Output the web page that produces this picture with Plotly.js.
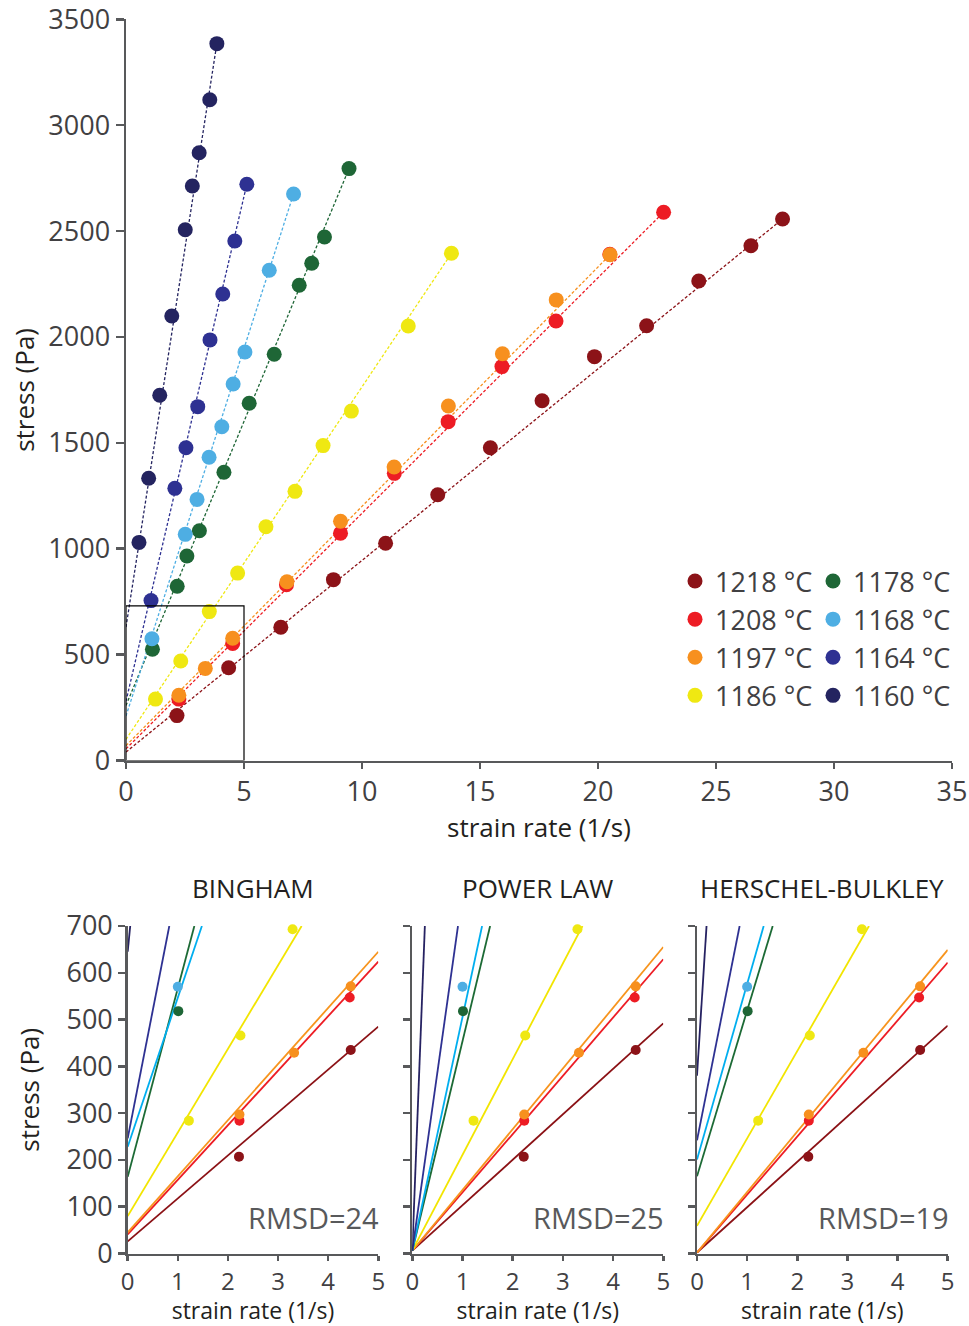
<!DOCTYPE html>
<html><head><meta charset="utf-8">
<script src="https://cdn.plot.ly/plotly-3.0.1.min.js"></script>
<style>html,body{margin:0;padding:0;background:#fff}</style>
</head><body><div id="chart" style="width:969px;height:1326px"></div>
<script>
// ---------- categories ----------
const temps = ['1218 °C','1208 °C','1197 °C','1186 °C','1178 °C','1168 °C','1164 °C','1160 °C'];
const markerColors = ['#8c1318','#ed1c24','#f7901e','#efe812','#1e6636','#4eaee3','#2e3192','#242460'];
const fitColors    = ['#8b1115','#ed1c24','#f7941d','#f2e500','#1c6a35','#00aeef','#2e3192','#262262'];

// ---------- main chart: measured points ----------
const rate_1218   = [2.16,4.35,6.56,8.79,11.00,13.21,15.44,17.63,19.85,22.06,24.27,26.48,27.82];
const stress_1218 = [212,438,629,854,1026,1255,1477,1699,1907,2053,2264,2431,2557];
const rate_1208   = [2.24,4.52,6.80,9.09,11.37,13.65,15.93,18.22,20.50,22.78];
const stress_1208 = [290,553,830,1073,1356,1600,1860,2075,2390,2589];
const rate_1197   = [2.24,3.36,4.52,6.82,9.09,11.36,13.66,15.95,18.23,20.51];
const stress_1197 = [308,435,577,844,1130,1386,1674,1921,2175,2388];
const rate_1186   = [1.25,2.32,3.53,4.73,5.93,7.16,8.35,9.55,11.96,13.79];
const stress_1186 = [290,470,703,885,1104,1271,1487,1650,2052,2395];
const rate_1178   = [1.12,2.17,2.58,3.11,4.15,5.22,6.28,7.34,7.87,8.41,9.45];
const stress_1178 = [525,823,966,1085,1361,1687,1918,2244,2348,2472,2795];
const rate_1168   = [1.10,2.51,3.01,3.52,4.06,4.54,5.04,6.07,7.10];
const stress_1168 = [575,1068,1233,1432,1576,1778,1929,2315,2675];
const rate_1164   = [1.06,2.07,2.54,3.04,3.56,4.10,4.61,5.12];
const stress_1164 = [755,1285,1477,1671,1986,2203,2453,2721];
const rate_1160   = [0.55,0.96,1.43,1.94,2.51,2.81,3.10,3.55,3.85];
const stress_1160 = [1030,1333,1725,2099,2506,2713,2870,3120,3385];

// ---------- main chart: dotted fit lines (start, end) ----------
const fitRate   = [[0,27.82],[0,22.78],[0,20.51],[0,13.79],[0,9.45],[0,7.10],[0,5.12],[0,3.85]];
const fitStress = [[40,2557],[55,2589],[70,2388],[100,2395],[260,2795],[210,2675],[280,2721],[630,3385]];

// ---------- ticks ----------
const mainRateTicks   = [0,5,10,15,20,25,30,35];
const mainStressTicks = [0,500,1000,1500,2000,2500,3000,3500];
const zoomRateTicks   = [0,1,2,3,4,5];
const zoomStressTicks = [0,100,200,300,400,500,600,700];

// ---------- lower panels: points shown in 0-5 1/s window ----------
const zoomRate   = [[2.22,4.45],[2.23,4.43],[2.23,3.32,4.45],[1.22,2.25,3.29],[1.01],[1.00],[],[]];
const zoomStress = [[207,435],[284,547],[297,429,571],[284,466,693],[518],[570],[],[]];

// ---------- lower panels: model curves (start, end) ----------
const binghamRate   = [[0,5],[0,5],[0,5],[0,3.47],[0,1.33],[0,1.48],[0,0.83],[0,0.05]];
const binghamStress = [[26,485],[41,624],[45,645],[80,700],[164,700],[228,700],[246,700],[645,700]];
const powerRate     = [[0,5],[0,5],[0,5],[0,3.39],[0,1.55],[0,1.39],[0,0.91],[0,0.25]];
const powerStress   = [[6,492],[6,629],[6,655],[6,700],[6,700],[6,700],[6,700],[6,700]];
const hbRate        = [[0,5],[0,5],[0,5],[0,3.43],[0,1.51],[0,1.33],[0,0.85],[0,0.19]];
const hbStress      = [[2,487],[2,622],[2,649],[59,700],[165,700],[201,700],[242,700],[380,700]];

const panelTitles = ['BINGHAM','POWER LAW','HERSCHEL-BULKLEY'];
const rmsdValues  = [24,25,19];

const mainRates    = [rate_1218,rate_1208,rate_1197,rate_1186,rate_1178,rate_1168,rate_1164,rate_1160];
const mainStresses = [stress_1218,stress_1208,stress_1197,stress_1186,stress_1178,stress_1168,stress_1164,stress_1160];

// ---------- build traces ----------
const FONT = 'Open Sans, Noto Sans, sans-serif';
const traces = [];
for (let i = 0; i < temps.length; i++) {
  traces.push({x: fitRate[i], y: fitStress[i], type:'scatter', mode:'lines', xaxis:'x', yaxis:'y',
    line:{color: markerColors[i], width:1.3, dash:'3px,2px'}, showlegend:false, hoverinfo:'skip'});
}
for (let i = 0; i < temps.length; i++) {
  traces.push({x: mainRates[i], y: mainStresses[i], type:'scatter', mode:'markers', name: temps[i],
    xaxis:'x', yaxis:'y', legend: i < 4 ? 'legend' : 'legend2',
    marker:{color: markerColors[i], size:15, line:{width:0}}});
}
const models = [[binghamRate,binghamStress],[powerRate,powerStress],[hbRate,hbStress]];
models.forEach((m, p) => {
  const ax = p + 2;
  for (let i = 0; i < temps.length; i++) {
    traces.push({x: m[0][i], y: m[1][i], type:'scatter', mode:'lines', xaxis:'x'+ax, yaxis:'y'+ax,
      line:{color: fitColors[i], width:1.8}, showlegend:false, hoverinfo:'skip'});
  }
  for (let i = 0; i < temps.length; i++) {
    if (!zoomRate[i].length) continue;
    traces.push({x: zoomRate[i], y: zoomStress[i], type:'scatter', mode:'markers', xaxis:'x'+ax, yaxis:'y'+ax,
      marker:{color: markerColors[i], size:10}, showlegend:false, cliponaxis:false});
  }
});

// ---------- layout ----------
const W = 969, H = 1326;
const px = v => v / W, py = v => (H - v) / H;
const tickFont = {family: FONT, size: 27, color: '#414042'};
const smallTickFont = {family: FONT, size: 24, color: '#414042'};
const titleFont = {family: FONT, size: 26, color: '#231f20'};
const smallTitleFont = {family: FONT, size: 23, color: '#231f20'};
const baseAxis = {showgrid:false, zeroline:false, showline:true, linecolor:'#58595b', linewidth:2.5,
  ticks:'outside', ticklen:8, tickwidth:2.5, tickcolor:'#58595b', tickfont: tickFont, fixedrange:true,
  tickmode:'array', ticklabeloverflow:'allow'};

const legendBase = {xanchor:'left', yanchor:'top', font:{family:FONT, size:27, color:'#414042'},
  bgcolor:'rgba(0,0,0,0)', itemwidth:30, tracegroupgap:0};

const layout = {
  width: W, height: H, margin:{l:0,r:0,t:0,b:0}, paper_bgcolor:'#fff', plot_bgcolor:'rgba(0,0,0,0)',
  font:{family: FONT},
  xaxis: Object.assign({}, baseAxis, {domain:[px(126), px(952)], range:[0,35], tickvals: mainRateTicks, anchor:'y',
    ticklen:6, title:{text:'strain rate (1/s)', font:titleFont, standoff:4}}),
  yaxis: Object.assign({}, baseAxis, {domain:[py(760.5), py(19.3)], range:[0,3500], tickvals: mainStressTicks, anchor:'x',
    title:{text:'stress (Pa)', font:titleFont, standoff:6}}),
  legend: Object.assign({}, legendBase, {x: px(675), y: py(557)}),
  legend2: Object.assign({}, legendBase, {x: px(813), y: py(557)}),
  shapes: [{type:'rect', xref:'x', yref:'y', x0:0, x1:5, y0:0, y1:730, line:{color:'#000', width:1.2}}],
  annotations: []
};
const panelX = [[127.7,378.3],[412.3,663.3],[697,947.7]];
for (let p = 0; p < 3; p++) {
  const ax = p + 2;
  layout['xaxis'+ax] = Object.assign({}, baseAxis, {domain:[px(panelX[p][0]), px(panelX[p][1])], range:[0,5],
    tickvals: zoomRateTicks, anchor:'y'+ax, ticklen:5, tickfont: smallTickFont,
    title:{text:'strain rate (1/s)', font:smallTitleFont, standoff:6}});
  layout['yaxis'+ax] = Object.assign({}, baseAxis, {domain:[py(1253.5), py(926)], range:[0,700],
    tickvals: zoomStressTicks, anchor:'x'+ax, ticklen:7, tickfont: tickFont, showticklabels: p === 0,
    title: p === 0 ? {text:'stress (Pa)', font:titleFont, standoff:20} : {text:''}});
  layout.annotations.push({xref:'x'+ax+' domain', yref:'paper', x:0.5, y:py(888), xanchor:'center', yanchor:'middle',
    text: panelTitles[p], showarrow:false, font:{family:FONT, size:26, color:'#231f20'}});
  layout.annotations.push({xref:'x'+ax+' domain', yref:'y'+ax, x:1, y:78, xanchor:'right', yanchor:'middle', xshift:3,
    text: 'RMSD=' + rmsdValues[p], showarrow:false, font:{family:FONT, size:29, color:'#58595b'}});
}

Plotly.newPlot('chart', traces, layout, {displayModeBar:false, staticPlot:true});
</script>
</body></html>
